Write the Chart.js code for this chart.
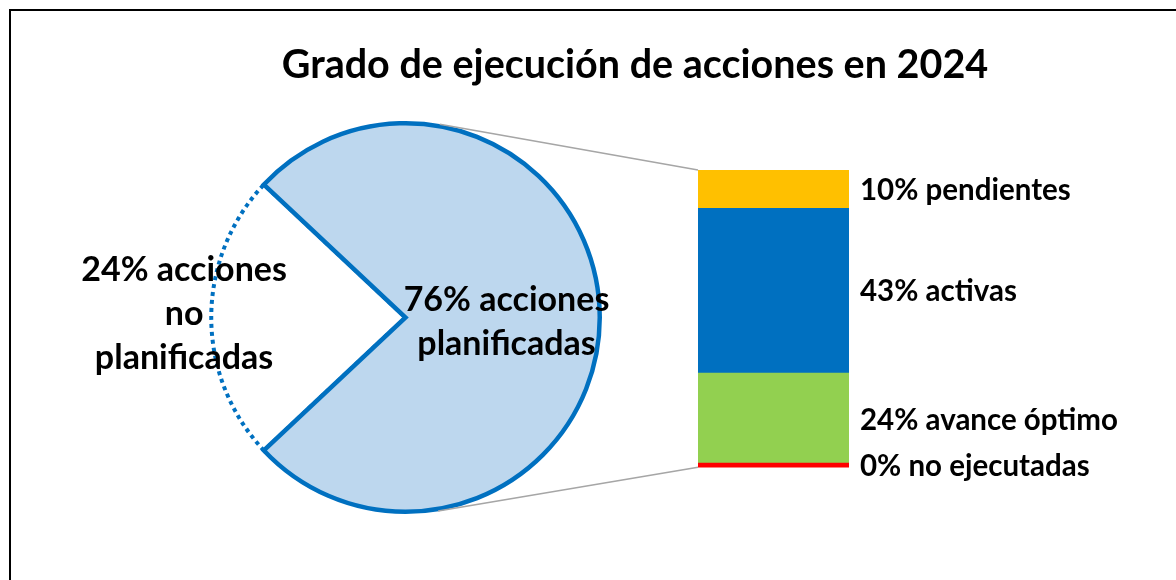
<!DOCTYPE html>
<html><head><meta charset="utf-8">
<script src="https://cdn.jsdelivr.net/npm/chart.js@4.4.1/dist/chart.umd.min.js"></script>
<style>
html,body{margin:0;padding:0;background:#fff;overflow:hidden;width:1176px;height:580px;}
#frame{position:absolute;left:9px;top:9px;width:1300px;height:700px;border-left:2px solid #000;border-top:2px solid #000;box-sizing:border-box;}
canvas{position:absolute;left:0;top:0;}
</style></head><body>
<div id="frame"></div>
<canvas id="pie" width="1176" height="580"></canvas>
<canvas id="bar" width="1176" height="580"></canvas>
<script>
const TITLE = 'Grado de ejecución de acciones en 2024';
const pieCategories = ['acciones no planificadas', 'acciones planificadas'];
const pieValues = [24, 76];
const pieLabelLines = [['24% acciones', 'no', 'planificadas'], ['76% acciones', 'planificadas']];
const barCategories = ['no ejecutadas', 'avance óptimo', 'activas', 'pendientes'];
const barValues = [0, 24, 43, 10];
const barLabels = ['0% no ejecutadas', '24% avance óptimo', '43% activas', '10% pendientes'];

const FONT = 'Lato, "Open Sans", sans-serif';
const pieSum = pieValues.reduce((a, b) => a + b, 0);
const barSum = barValues.reduce((a, b) => a + b, 0);

const pieText = {
  id: 'pieText',
  afterDatasetsDraw(chart) {
    const ctx = chart.ctx;
    const arcs = chart.getDatasetMeta(0).data;
    ctx.save();
    ctx.fillStyle = '#000';
    ctx.textAlign = 'center';
    ctx.textBaseline = 'middle';
    ctx.font = 'bold 34px ' + FONT;
    const factors = [1.14, 0.52];
    const dys = [-3, 5];
    arcs.forEach((a, i) => {
      const p = a.getProps(['x', 'y', 'startAngle', 'endAngle', 'outerRadius'], true);
      const mid = (p.startAngle + p.endAngle) / 2;
      const r = p.outerRadius * factors[i];
      const cx = p.x + Math.cos(mid) * r;
      const cy = p.y + Math.sin(mid) * r + dys[i];
      const lines = pieLabelLines[i];
      const lh = 44;
      lines.forEach((t, j) => ctx.fillText(t, cx, cy + (j - (lines.length - 1) / 2) * lh));
    });
    ctx.font = 'bold 39.5px ' + FONT;
    ctx.fillText(TITLE, 635, 65);
    ctx.restore();
  }
};

const pieChart = new Chart(document.getElementById('pie'), {
  type: 'pie',
  data: {
    labels: pieCategories,
    datasets: [{
      data: pieValues,
      backgroundColor: ['rgba(255,255,255,0)', '#BDD7EE'],
      borderColor: '#0070C0',
      borderWidth: [4, 4.5],
      borderDash: (c) => c.dataIndex === 0 ? [4, 4] : [],
      borderJoinStyle: 'miter'
    }]
  },
  options: {
    responsive: false,
    animation: false,
    rotation: 270 - (pieValues[0] / pieSum) * 180,
    layout: { padding: { left: 209, right: 574, top: 121, bottom: 66 } },
    plugins: { legend: { display: false }, tooltip: { enabled: false }, title: { display: false } }
  },
  plugins: [pieText]
});

const barColors = ['#FF0000', '#92D050', '#0070C0', '#FFC000'];

const barDeco = {
  id: 'barDeco',
  beforeDatasetsDraw(chart) {
    const ctx = chart.ctx;
    const arc = pieChart.getDatasetMeta(0).data[1];
    const cx = arc.x, cy = arc.y, R = arc.outerRadius + 2;
    const top = chart.getDatasetMeta(barValues.length - 1).data[0];
    const bot = chart.getDatasetMeta(0).data[0];
    const pts = [
      { x: top.x - top.width / 2, y: Math.min(top.y, top.base), s: -1 },
      { x: bot.x - bot.width / 2, y: Math.max(bot.y, bot.base), s: 1 }
    ];
    ctx.save();
    ctx.strokeStyle = '#A6A6A6';
    ctx.lineWidth = 1.5;
    pts.forEach(p => {
      const dx = p.x - cx, dy = p.y - cy;
      const d = Math.hypot(dx, dy);
      const th = Math.atan2(dy, dx);
      const al = Math.acos(R / d);
      const ang = th + p.s * al;
      ctx.beginPath();
      ctx.moveTo(cx + Math.cos(ang) * R, cy + Math.sin(ang) * R);
      ctx.lineTo(p.x, p.y);
      ctx.stroke();
    });
    ctx.restore();
  },
  afterDatasetsDraw(chart) {
    const ctx = chart.ctx;
    ctx.save();
    ctx.fillStyle = '#000';
    ctx.textAlign = 'left';
    ctx.textBaseline = 'middle';
    ctx.font = 'bold 29.5px ' + FONT;
    barLabels.forEach((t, i) => {
      const el = chart.getDatasetMeta(i).data[0];
      ctx.fillText(t, el.x + el.width / 2 + 11, (el.y + el.base) / 2 + 1);
    });
    ctx.restore();
  }
};

const barChart = new Chart(document.getElementById('bar'), {
  type: 'bar',
  data: {
    labels: ['acciones planificadas'],
    datasets: barValues.map((v, i) => ({
      label: barCategories[i],
      data: [v],
      backgroundColor: barColors[i],
      borderWidth: 0,
      barPercentage: 1,
      categoryPercentage: 1,
      minBarLength: 4
    }))
  },
  options: {
    responsive: false,
    animation: false,
    layout: { padding: { left: 698, right: 327, top: 170, bottom: 111 } },
    scales: {
      x: { stacked: true, display: false },
      y: { stacked: true, display: false, min: -1, max: barSum }
    },
    plugins: { legend: { display: false }, tooltip: { enabled: false }, title: { display: false } }
  },
  plugins: [barDeco]
});
</script>
</body></html>
